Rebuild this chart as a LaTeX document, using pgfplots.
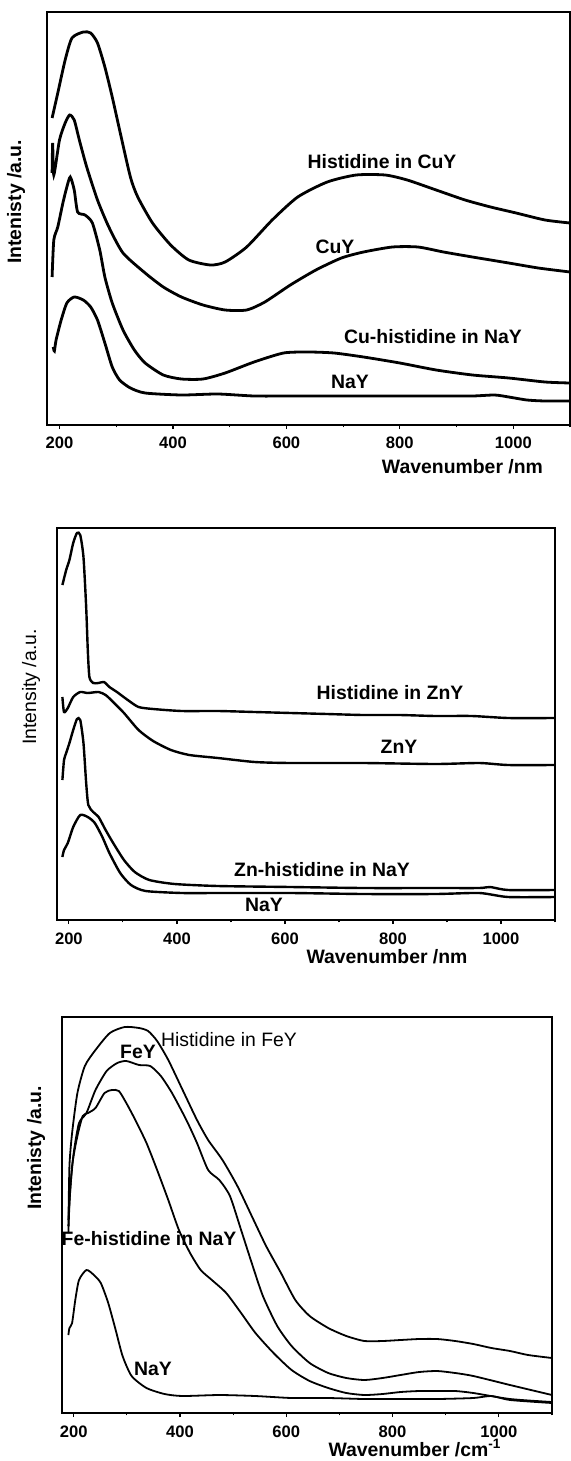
\documentclass[border=0pt]{standalone}
\usepackage{pgfplots}
\pgfplotsset{compat=1.18}
\usepackage{fontspec}
\setmainfont{Liberation Sans}
\newcommand{\lab}{\bfseries\fontsize{9.7}{11}\selectfont}
\newcommand{\labr}{\fontsize{9.7}{11}\selectfont}
\pgfplotsset{
  panel/.style={
    scale only axis, anchor=south west,
    xmin=178, xmax=1100, ymin=0,
    xtick={200,400,600,800,1000},
    minor xtick={300,500,700,900,1100},
    xtick pos=bottom, ytick=\empty,
    tick align=outside,
    major tick length=2pt, minor tick length=1.2pt,
    every tick/.style={black, line width=0.6pt},
    axis line style={line width=1pt},
    /pgf/number format/1000 sep={},
    /pgf/number format/assume math mode=true,
    xticklabel style={font=\bfseries\fontsize{8.3}{10}\selectfont, inner sep=1pt, yshift=-3pt},
    clip=false,
  },
}
\begin{document}
\begin{tikzpicture}
\useasboundingbox (0,0) rectangle (285.5pt,-730.5pt);
% ---------------- Panel 1 ----------------
\begin{axis}[panel, at={(23.5pt,-212.5pt)}, width=261.5pt, height=206.5pt, ymax=413]
\addplot[black, line width=1.4pt, smooth, tension=0.4] coordinates {
(187,307)(197,332)(210,365)(222,387)(242,393)(255,392)(267,382)(280,358)(293,328)(306,295)(325,248)(338,228)(364,202)(396,180)(428,165)(466,160)(492,163)(530,178)(575,205)(620,228)(672,243)(723,250)(774,250)(813,245)(864,235)(915,225)(960,218)(1005,212)(1056,205)(1100,202)};
\addplot[black, line width=1.4pt, smooth, tension=0.4] coordinates {
(187,252)(188,282)(190,250)(200,285)(210,302)(218,310)(226,305)(235,285)(248,258)(267,225)(287,198)(312,172)(351,152)(383,138)(415,128)(453,120)(492,115)(530,115)(562,123)(607,140)(652,155)(697,167)(736,173)(787,178)(832,178)(877,173)(928,168)(992,162)(1044,157)(1100,153)};
\addplot[black, line width=1.4pt, smooth, tension=0.4] coordinates {
(187,148)(190,185)(197,198)(206,222)(213,238)(219,248)(226,235)(232,213)(245,210)(258,202)(271,175)(280,148)(293,122)(312,95)(332,75)(351,62)(383,50)(415,46)(453,46)(492,52)(543,63)(595,72)(639,73)(684,72)(736,68)(800,62)(864,55)(928,50)(992,47)(1056,43)(1100,42)};
\addplot[black, line width=1.4pt, smooth, tension=0.4] coordinates {
(189,78)(191,74)(194,85)(203,105)(213,122)(226,128)(242,125)(255,118)(267,105)(280,82)(293,58)(306,45)(325,37)(351,32)(415,30)(479,31)(543,29)(607,29)(672,29)(736,29)(800,29)(864,29)(928,29)(967,30)(992,28)(1024,25)(1056,24)(1100,24)};
\end{axis}
\node[rotate=90, font=\lab] at (8pt,-101pt) {Intenisty /a.u.};
\node[anchor=east, font=\lab] at (275pt,-233.5pt) {Wavenumber /nm};
\node[font=\lab] at (191pt,-81pt) {Histidine in CuY};
\node[font=\lab] at (167.5pt,-123.5pt) {CuY};
\node[font=\lab] at (216.5pt,-168.5pt) {Cu-histidine in NaY};
\node[font=\lab] at (175pt,-191pt) {NaY};
% ---------------- Panel 2 ----------------
\begin{axis}[panel, at={(28.5pt,-460pt)}, width=249pt, height=196pt, ymax=392]
\addplot[black, line width=1.2pt, smooth, tension=0.4] coordinates {
(188,335)(195,350)(201,360)(208,377)(215,387)(221,385)(227,363)(232,313)(235,270)(238,243)(245,237)(255,237)(265,238)(275,233)(289,228)(309,220)(329,213)(356,211)(409,209)(476,209)(544,208)(611,207)(678,206)(745,205)(812,205)(879,204)(946,204)(1013,202)(1100,202)};
\addplot[black, line width=1.2pt, smooth, tension=0.4] coordinates {
(188,223)(191,208)(198,212)(208,223)(221,228)(235,227)(255,228)(268,225)(282,218)(302,207)(329,190)(356,179)(389,170)(423,165)(476,162)(544,158)(611,157)(745,157)(879,156)(960,157)(1013,155)(1100,155)};
\addplot[black, line width=1.2pt, smooth, tension=0.4] coordinates {
(188,140)(191,160)(195,167)(201,177)(208,190)(215,201)(221,200)(227,177)(232,137)(236,115)(245,108)(255,103)(268,90)(282,77)(302,60)(322,48)(349,40)(396,36)(476,34)(611,33)(745,32)(879,32)(960,32)(980,33)(1013,30)(1100,30)};
\addplot[black, line width=1.2pt, smooth, tension=0.4] coordinates {
(188,63)(191,70)(198,77)(208,93)(221,105)(235,103)(248,97)(262,83)(275,67)(295,47)(315,35)(342,29)(409,27)(476,27)(611,27)(745,26)(879,26)(960,27)(1013,23)(1100,23)};
\end{axis}
\node[rotate=90, font=\labr] at (15.5pt,-343.5pt) {Intensity /a.u.};
\node[font=\lab] at (193.5pt,-478.5pt) {Wavenumber /nm};
\node[font=\lab] at (195pt,-346.5pt) {Histidine in ZnY};
\node[font=\lab] at (199.5pt,-373.5pt) {ZnY};
\node[font=\lab] at (161pt,-435pt) {Zn-histidine in NaY};
\node[font=\lab] at (132pt,-452.5pt) {NaY};
% ---------------- Panel 3 ----------------
\begin{axis}[panel, at={(31pt,-706.5pt)}, width=245pt, height=198pt, ymax=396]
\addplot[black, line width=0.9pt, smooth, tension=0.4] coordinates {
(190,187)(192,247)(197,280)(207,320)(221,347)(241,363)(268,380)(296,386)(323,385)(340,382)(357,372)(378,353)(405,323)(432,293)(453,273)(480,253)(508,227)(535,197)(562,167)(590,140)(617,113)(644,97)(679,85)(713,77)(747,72)(781,72)(815,73)(850,74)(884,74)(918,72)(952,69)(986,65)(1021,62)(1055,58)(1100,55)};
\addplot[black, line width=0.9pt, smooth, tension=0.4] coordinates {
(190,180)(193,220)(200,260)(210,290)(224,300)(241,323)(262,342)(282,350)(299,352)(323,348)(344,347)(364,337)(385,320)(412,293)(432,270)(453,243)(474,233)(494,217)(515,183)(535,150)(556,117)(583,87)(610,67)(644,50)(679,40)(713,35)(747,33)(781,35)(815,38)(850,41)(884,42)(918,40)(952,37)(1021,28)(1100,18)};
\addplot[black, line width=0.9pt, smooth, tension=0.4] coordinates {
(190,193)(197,247)(207,277)(217,297)(227,300)(241,305)(258,320)(272,323)(285,322)(299,310)(316,293)(337,270)(357,243)(378,213)(398,183)(419,160)(439,143)(460,133)(487,120)(515,100)(542,80)(576,60)(610,43)(644,32)(679,25)(713,20)(747,18)(781,19)(815,21)(850,22)(884,22)(918,22)(952,20)(1021,14)(1100,11)};
\addplot[black, line width=0.9pt, smooth, tension=0.4] coordinates {
(190,78)(192,85)(197,90)(203,113)(210,133)(224,143)(238,138)(251,130)(265,110)(279,83)(292,57)(309,37)(337,25)(371,19)(405,17)(474,18)(542,17)(610,15)(679,15)(747,14)(815,14)(884,14)(952,15)(986,17)(1021,13)(1100,10)};
\end{axis}
\node[rotate=90, font=\lab] at (18pt,-574pt) {Intenisty /a.u.};
\node[font=\lab] at (207.5pt,-724pt) {Wavenumber /cm\textsuperscript{-1}};
\node[font=\labr] at (114.5pt,-520pt) {Histidine in FeY};
\node[font=\lab] at (69pt,-526pt) {FeY};
\node[font=\lab] at (74.5pt,-619.5pt) {Fe-histidine in NaY};
\node[font=\lab] at (76.5pt,-684.5pt) {NaY};
\end{tikzpicture}
\end{document}
